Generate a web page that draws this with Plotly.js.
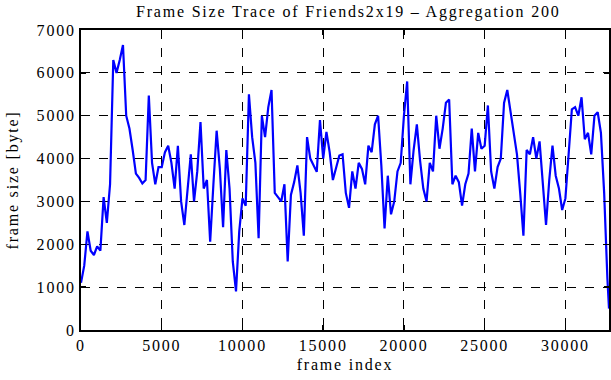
<!DOCTYPE html>
<html>
<head>
<meta charset="utf-8">
<script src="https://cdn.plot.ly/plotly-3.0.1.min.js"></script>
<style>html,body{margin:0;padding:0;background:#fff}#chart{width:611px;height:380px}#chart text{letter-spacing:1.8px}</style>
</head>
<body>
<div id="chart"></div>
<script>
const frameIndex = [
0,200,400,600,800,1000,1200,1400,1600,1800,
2000,2200,2400,2600,2800,3000,3200,3400,3600,3800,
4000,4200,4400,4600,4800,5000,5200,5400,5600,5800,
6000,6200,6400,6600,6800,7000,7200,7400,7600,7800,
8000,8200,8400,8600,8800,9000,9200,9400,9600,9800,
10000,10200,10400,10600,10800,11000,11200,11400,11600,11800,
12000,12200,12400,12600,12800,13000,13200,13400,13600,13800,
14000,14200,14400,14600,14800,15000,15200,15400,15600,15800,
16000,16200,16400,16600,16800,17000,17200,17400,17600,17800,
18000,18200,18400,18600,18800,19000,19200,19400,19600,19800,
20000,20200,20400,20600,20800,21000,21200,21400,21600,21800,
22000,22200,22400,22600,22800,23000,23200,23400,23600,23800,
24000,24200,24400,24600,24800,25000,25200,25400,25600,25800,
26000,26200,26400,26600,26800,27000,27200,27400,27600,27800,
28000,28200,28400,28600,28800,29000,29200,29400,29600,29800,
30000,30200,30400,30600,30800,31000,31200,31400,31600,31800,
32000,32200,32400,32600,32700
];
const frameSize = [
1100,1500,2300,1850,1750,1950,1850,3100,2500,3400,
6300,6000,6300,6650,5000,4700,4200,3650,3550,3420,
3500,5470,3900,3400,3800,3800,4150,4300,3900,3300,
4300,3000,2450,3300,4100,3000,3700,4850,3300,3500,
2060,3400,4650,3760,2400,4200,3300,1600,900,2300,
3070,2900,5500,4500,3900,2140,5000,4500,5200,5600,
3200,3100,3000,3400,1600,3150,3450,3840,3200,2200,
4500,4000,3840,3690,4900,4000,4620,4150,3500,3760,
4070,4100,3200,2850,3700,3300,3900,3760,3400,4300,
4150,4800,5000,3840,2370,3600,2700,3000,3700,3900,
5000,5800,3400,4200,4800,3950,3300,3000,3900,3700,
5000,4230,4700,5300,5380,3400,3600,3450,2900,3400,
3650,4700,3700,4600,4230,4300,5240,3700,3300,3800,
4000,5300,5600,5100,4650,4100,3200,2200,4200,4100,
4500,4000,4400,3400,2450,3500,4300,3600,3300,2800,
3070,4100,5150,5200,5000,5430,4450,4600,4100,5000,
5080,4600,3200,1200,500
];
const xTickVals = [0,5000,10000,15000,20000,25000,30000];
const yTickVals = [0,1000,2000,3000,4000,5000,6000,7000];

const font = {family: '"Liberation Serif", "DejaVu Serif", serif', size: 16, color: '#000'};

Plotly.newPlot('chart', [{
  x: frameIndex,
  y: frameSize,
  type: 'scatter',
  mode: 'lines',
  line: {color: '#0000ff', width: 2.2},
  hoverinfo: 'skip'
}], {
  width: 611, height: 380,
  margin: {l: 81, r: 2, t: 30, b: 50},
  paper_bgcolor: '#fff', plot_bgcolor: '#fff',
  font: font,
  showlegend: false,
  title: {text: 'Frame Size Trace of Friends2x19 \u2013 Aggregation 200', font: font, x: 0.57, xanchor: 'center', y: 0.985, yanchor: 'top'},
  xaxis: {
    range: [0, 32700],
    tickvals: xTickVals,
    ticktext: xTickVals.map(String),
    ticks: 'inside', ticklen: 5, tickwidth: 1.5, tickcolor: '#000',
    showline: true, linecolor: '#000', linewidth: 2, mirror: 'ticks',
    showgrid: true, gridcolor: '#000', griddash: 'dash', gridwidth: 1,
    zeroline: false,
    tickfont: font,
    title: {text: 'frame index', font: font, standoff: 6}
  },
  yaxis: {
    range: [0, 7000],
    tickvals: yTickVals,
    ticktext: yTickVals.map(String),
    ticks: 'inside', ticklen: 5, tickwidth: 1.5, tickcolor: '#000',
    showline: true, linecolor: '#000', linewidth: 2, mirror: 'ticks',
    showgrid: true, gridcolor: '#000', griddash: 'dash', gridwidth: 1,
    zeroline: false,
    tickfont: font,
    ticklabelstandoff: 0,
    title: {text: 'frame size [byte]', font: font, standoff: 21}
  }
}, {staticPlot: true, displayModeBar: false});
</script>
</body>
</html>
